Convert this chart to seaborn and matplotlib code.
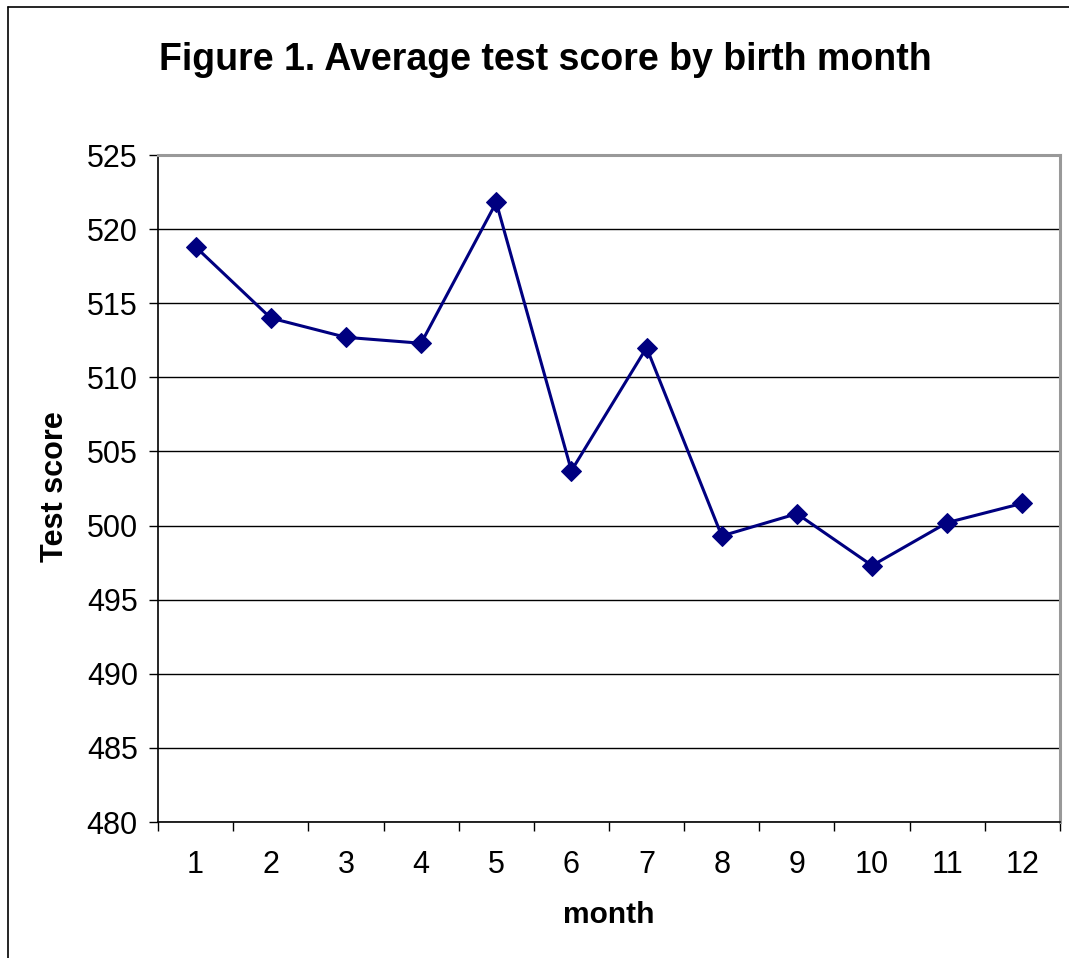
import matplotlib
matplotlib.use("Agg")
import matplotlib.pyplot as plt
import seaborn as sns
import pandas as pd
from matplotlib.lines import Line2D
from matplotlib.ticker import FixedLocator

months = [1, 2, 3, 4, 5, 6, 7, 8, 9, 10, 11, 12]
scores = [518.8, 514.0, 512.7, 512.3, 521.8, 503.7, 512.0, 499.3, 500.8, 497.3, 500.2, 501.5]
yticks = [480, 485, 490, 495, 500, 505, 510, 515, 520, 525]
title = "Figure 1. Average test score by birth month"
xlabel = "month"
ylabel = "Test score"

sns.set_style("white")
plt.rcParams['font.family'] = ['Liberation Sans', 'DejaVu Sans']
plt.rcParams['text.color'] = 'black'
plt.rcParams['xtick.color'] = 'black'
plt.rcParams['ytick.color'] = 'black'
plt.rcParams['axes.labelcolor'] = 'black'

df = pd.DataFrame({"month": months, "score": scores})

fig = plt.figure(figsize=(10.69, 9.58), dpi=100)
ax = fig.add_axes([158/1069, 1-822/958, (1060-158)/1069, (822-155)/958])

sns.lineplot(data=df, x="month", y="score", ax=ax, color="#000080",
             linewidth=2.2, marker="D", markersize=10.5,
             markeredgecolor="#000080", markerfacecolor="#000080")

ax.set_xlim(0.5, 12.5)
ax.set_ylim(480, 525)
ax.set_yticks(yticks)
ax.set_yticklabels([str(v) for v in yticks])
ax.yaxis.grid(True, color="black", linewidth=1.0)
ax.set_axisbelow(True)

# x: tick marks at category boundaries, labels at category centres
ax.xaxis.set_major_locator(FixedLocator([m - 0.5 for m in months] + [12.5]))
ax.set_xticklabels([])
ax.set_xticks(months, minor=True)
ax.set_xticklabels([str(m) for m in months], minor=True)
ax.tick_params(axis="x", which="major", direction="out", length=6.5, width=1, color="black", bottom=True)
ax.tick_params(axis="x", which="minor", length=0, labelsize=22, pad=20, bottom=True, labelcolor="black")
ax.tick_params(axis="y", direction="out", length=6.5, width=1, color="black", labelsize=22, pad=8, left=True, labelcolor="black")

for s in ["left", "bottom"]:
    ax.spines[s].set_color("black")
    ax.spines[s].set_linewidth(1.2)
for s in ["top", "right"]:
    ax.spines[s].set_visible(True)
    ax.spines[s].set_color("#999999")
    ax.spines[s].set_linewidth(2.2)

ax.set_xlabel("")
ax.set_ylabel("")
fig.text(609/1069, 1-915/958, xlabel, ha="center", va="center", fontsize=21.5, fontweight="bold", color="black")
fig.text(55/1069, 1-487/958, ylabel, ha="center", va="center", fontsize=22, fontweight="bold", rotation=90, color="black")
fig.text(545/1069, 1-60/958, title, ha="center", va="center", fontsize=27, fontweight="bold", color="black")

# outer frame (left and top edges visible)
fig.add_artist(Line2D([8/1069, 8/1069], [0, 1-7/958], transform=fig.transFigure, color="black", linewidth=1.2))
fig.add_artist(Line2D([8/1069, 1], [1-7/958, 1-7/958], transform=fig.transFigure, color="black", linewidth=1.2))

fig.savefig("out.png", dpi=100)
